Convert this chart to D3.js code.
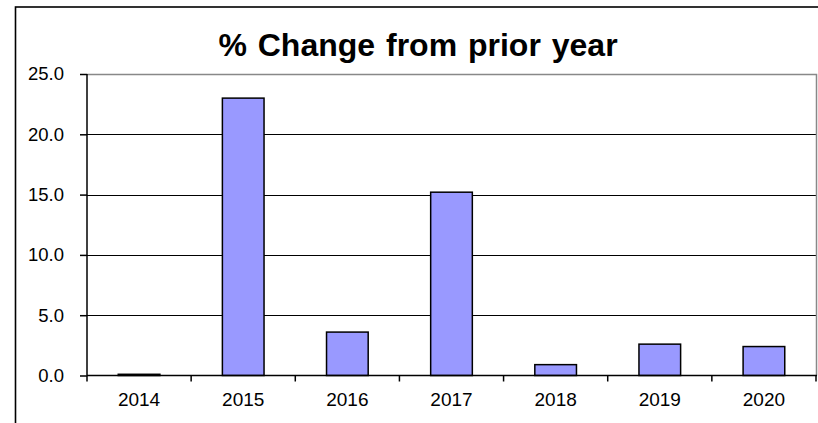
<!DOCTYPE html>
<html>
<head>
<meta charset="utf-8">
<script src="https://cdn.jsdelivr.net/npm/d3@7"></script>
<style>
  body { margin: 0; background: #fff; }
  svg { display: block; font-family: "Liberation Sans", Arial, sans-serif; }
</style>
</head>
<body>
<div id="graph"></div>
<script>
// data
let years = ["2014", "2015", "2016", "2017", "2018", "2019", "2020"];
let pctChange = [0.1, 23.0, 3.6, 15.2, 0.9, 2.6, 2.4];
let yTicks = [0, 5, 10, 15, 20, 25];

let w = 818;
let h = 423;

// plot area
let plotL = 87, plotR = 816, plotT = 74, plotB = 375.5;

let svg = d3.select("#graph")
              .append("svg")
                .attr("width", w)
                .attr("height", h);

// outer chart border (runs off the right and bottom)
svg.append("rect")
    .attr("x", 15.5)
    .attr("y", 7)
    .attr("width", 806)
    .attr("height", 500)
    .attr("fill", "white")
    .attr("stroke", "#000")
    .attr("stroke-width", 1.6);

svg.append("text")
    .attr("x", 418)
    .attr("y", 56)
    .attr("text-anchor", "middle")
    .attr("font-size", 32)
    .attr("font-weight", "bold")
    .attr("word-spacing", 2)
    .text("% Change from prior year");

let x = d3.scaleBand()
            .domain(years)
            .range([plotL, plotR])
            .paddingInner(0.6)
            .paddingOuter(0.3);

let y = d3.scaleLinear()
            .domain([0, 25])
            .range([plotB, plotT]);

// gridlines
svg.selectAll("grid").data(yTicks.filter(d => d > 0 && d < 25)).enter()
    .append("line")
      .attr("x1", plotL)
      .attr("x2", plotR)
      .attr("y1", d => Math.round(y(d)) + 0.5)
      .attr("y2", d => Math.round(y(d)) + 0.5)
      .attr("stroke", "#000")
      .attr("stroke-width", 1);

// gray plot border top + right
svg.append("path")
    .attr("d", "M" + plotL + "," + (plotT + 0.5) + "H" + (plotR + 0.5) + "V" + plotB)
    .attr("fill", "none")
    .attr("stroke", "#888")
    .attr("stroke-width", 1.5);

// bars
svg.selectAll("bars").data(pctChange).enter()
    .append("rect")
      .attr("x", (d, i) => x(years[i]))
      .attr("y", d => y(d))
      .attr("width", x.bandwidth())
      .attr("height", d => y(0) - y(d))
      .attr("fill", "#9999ff")
      .attr("stroke", "#000")
      .attr("stroke-width", 1.5);

// y axis
let yAxis = d3.axisLeft(y)
                .tickValues(yTicks)
                .tickSize(7)
                .tickPadding(16)
                .tickFormat(d3.format(".1f"));

let gy = svg.append("g")
    .attr("transform", "translate(" + plotL + ",0)")
    .call(yAxis);

// x axis with ticks at category boundaries
let gx = svg.append("g")
    .attr("transform", "translate(0," + plotB + ")");

gx.append("line")
    .attr("x1", plotL)
    .attr("x2", plotR + 1)
    .attr("stroke", "#000")
    .attr("stroke-width", 1.5);

let step = x.step();
gx.selectAll("xt").data(d3.range(years.length + 1)).enter()
    .append("line")
      .attr("x1", i => plotL + i * step)
      .attr("x2", i => plotL + i * step)
      .attr("y1", 0)
      .attr("y2", 6)
      .attr("stroke", "#000")
      .attr("stroke-width", 1.5);

gx.selectAll("xl").data(years).enter()
    .append("text")
      .attr("x", d => x(d) + x.bandwidth() / 2)
      .attr("y", 30)
      .attr("text-anchor", "middle")
      .attr("font-size", 19)
      .attr("fill", "#000")
      .text(d => d);

gy.select(".domain").attr("stroke-width", 1.5);
gy.selectAll(".tick line").attr("stroke-width", 1.5);
gy.selectAll(".tick text")
    .attr("font-size", 18.5)
    .attr("font-family", "Liberation Sans, Arial, sans-serif")
    .attr("fill", "#000");
gy.select(".domain").attr("d", "M0," + plotB + "V" + plotT);
</script>
</body>
</html>
